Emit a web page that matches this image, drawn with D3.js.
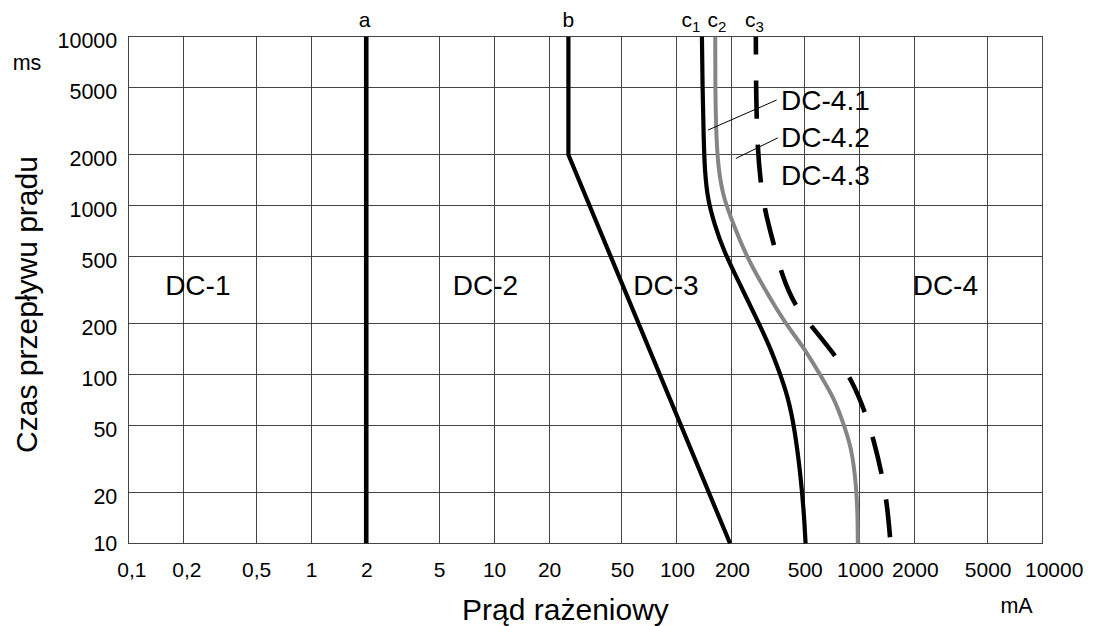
<!DOCTYPE html>
<html><head><meta charset="utf-8">
<script src="https://cdn.jsdelivr.net/npm/d3@7"></script>
<style>
body{margin:0;background:#fff}
svg text{font-family:"Liberation Sans",Arial,Helvetica,sans-serif;fill:#000}
</style>
</head><body>
<svg id="chart" width="1095" height="626"></svg>
<script>
// ---- data (current in mA, time in ms) ----
const xTicks = [0.1,0.2,0.5,1,2,5,10,20,50,100,200,500,1000,2000,5000,10000];
const xTickLabels = ["0,1","0,2","0,5","1","2","5","10","20","50","100","200","500","1000","2000","5000","10000"];
const yTicks = [10,20,50,100,200,500,1000,2000,5000,10000];
const yTickLabels = ["10","20","50","100","200","500","1000","2000","5000","10000"];

const curveA  = [[2,10],[2,10000]];
const curveB  = [[25.5,10000],[25.5,2000],[195,10]];
const curveC1 = [[137,10000],[138,5000],[140,2500],[142,1600],[147,1100],[160,780],[180,540],[220,345],[275,210],[322,146],[365,102],[404,74],[440,48],[475,25],[495,15],[505,10]];
const curveC2 = [[162,10000],[162,5000],[164,2500],[169,1600],[180,1100],[205,760],[240,500],[297,330],[385,205],[491,146],[605,100],[725,72],[820,50],[905,36],[955,22],[972,15],[975,10]];
const curveC3 = [[270,10000],[271,4200],[276,2200],[286,1400],[303,920],[340,580],[374,390],[440,255],[556,188],[752,125],[902,93],[1070,60],[1190,41],[1330,25],[1420,16],[1472,10]];

const zoneNames = ["DC-1","DC-2","DC-3","DC-4"];
const zonePos = [[0.159,295],[5.94,295],[57.7,295],[1945,295]];
const subNames = ["DC-4.1","DC-4.2","DC-4.3"];
const subPos = [[371,3673],[371,2229],[371,1321]];
const leaders = [[[148,2800],[351,4217]],[[210,1901],[356,2518]]];

const xTitle = "Prąd rażeniowy";
const yTitle = "Czas przepływu prądu";
const xUnit = "mA";
const yUnit = "ms";

// ---- scales ----
const svg = d3.select("#chart");
const x = d3.scaleLog().domain([0.1,10000]).range([128.3,1042.7]);
const y = d3.scaleLog().domain([10,10000]).range([543.3,36.7]);
const FONT = '"Liberation Sans",Arial,Helvetica,sans-serif';

// ---- grid ----
const grid = svg.append("g").attr("shape-rendering","crispEdges").attr("stroke","#444").attr("stroke-width",1);
grid.selectAll("line.v").data(xTicks).join("line").attr("class","v")
  .attr("x1",d=>x(d)).attr("x2",d=>x(d)).attr("y1",y(10)).attr("y2",y(10000));
grid.selectAll("line.h").data(yTicks).join("line").attr("class","h")
  .attr("x1",x(0.1)).attr("x2",x(10000)).attr("y1",d=>y(d)).attr("y2",d=>y(d));

// ---- axes (labels only) ----
const xAxis = svg.append("g").attr("transform",`translate(0,${y(10)})`)
  .call(d3.axisBottom(x).tickValues(xTicks).tickFormat((d,i)=>xTickLabels[i]).tickSize(0).tickPadding(18.5));
xAxis.select(".domain").remove();
xAxis.selectAll("text").attr("font-size",21).attr("font-family",FONT)
  .attr("dx",d=> d===10000 ? 11 : (d<=0.2 ? 3 : 0));

const yAxis = svg.append("g").attr("transform",`translate(${x(0.1)},0)`)
  .call(d3.axisLeft(y).tickValues(yTicks).tickFormat((d,i)=>yTickLabels[i]).tickSize(0).tickPadding(11));
yAxis.select(".domain").remove();
yAxis.selectAll("text").attr("font-size",21.5).attr("font-family",FONT)
  .attr("dy",d=> d===10 ? "0.32em" : "0.52em");

// ---- curves ----
const smooth = d3.line().x(d=>x(d[0])).y(d=>y(d[1])).curve(d3.curveBasis);
const straight = d3.line().x(d=>x(d[0])).y(d=>y(d[1]));

svg.append("path").attr("d",straight(curveA)).attr("fill","none").attr("stroke","#000").attr("stroke-width",4.6);
svg.append("path").attr("d",straight(curveB)).attr("fill","none").attr("stroke","#000").attr("stroke-width",4.2).attr("stroke-linejoin","round");
svg.append("path").attr("d",smooth(curveC1)).attr("fill","none").attr("stroke","#000").attr("stroke-width",4.2);
svg.append("path").attr("d",smooth(curveC2)).attr("fill","none").attr("stroke","#858585").attr("stroke-width",4);
svg.append("path").attr("d",smooth(curveC3)).attr("fill","none").attr("stroke","#000").attr("stroke-width",4.6)
  .attr("stroke-dasharray","38,26").attr("stroke-dashoffset",20);

// ---- leader lines ----
svg.append("g").selectAll("line").data(leaders).join("line")
  .attr("x1",d=>x(d[0][0])).attr("y1",d=>y(d[0][1]))
  .attr("x2",d=>x(d[1][0])).attr("y2",d=>y(d[1][1]))
  .attr("stroke","#000").attr("stroke-width",1);

// ---- curve labels ----
const topLabels = [
  {t:"a", s:"", v:curveA[1][0], dx:-1.7, anchor:"middle"},
  {t:"b", s:"", v:curveB[0][0], dx:0, anchor:"middle"},
  {t:"c", s:"1", v:curveC1[0][0], dx:-20.5, anchor:"start"},
  {t:"c", s:"2", v:curveC2[0][0], dx:-7.8, anchor:"start"},
  {t:"c", s:"3", v:curveC3[0][0], dx:-10.8, anchor:"start"}
];
topLabels.forEach(l=>{
  const tx = svg.append("text").attr("x",x(l.v)+l.dx).attr("y",26.7)
    .attr("font-size",21).attr("text-anchor",l.anchor).text(l.t);
  if(l.s) tx.append("tspan").attr("font-size",15).attr("dy",5.6).text(l.s);
});

// ---- zone labels ----
svg.append("g").selectAll("text").data(zoneNames).join("text")
  .attr("x",(d,i)=>x(zonePos[i][0])).attr("y",(d,i)=>y(zonePos[i][1]))
  .attr("font-size",28).text(d=>d);
svg.append("g").selectAll("text").data(subNames).join("text")
  .attr("x",(d,i)=>x(subPos[i][0])).attr("y",(d,i)=>y(subPos[i][1]))
  .attr("font-size",28).text(d=>d);

// ---- titles ----
svg.append("text").attr("x",565.5).attr("y",620).attr("text-anchor","middle").attr("font-size",30).text(xTitle);
svg.append("text").attr("transform","translate(37,304.5) rotate(-90)").attr("text-anchor","middle").attr("font-size",30).text(yTitle);
svg.append("text").attr("x",1016.5).attr("y",613).attr("text-anchor","middle").attr("font-size",21.5).text(xUnit);
svg.append("text").attr("x",27).attr("y",70).attr("text-anchor","middle").attr("font-size",21.5).text(yUnit);
</script>
</body></html>
